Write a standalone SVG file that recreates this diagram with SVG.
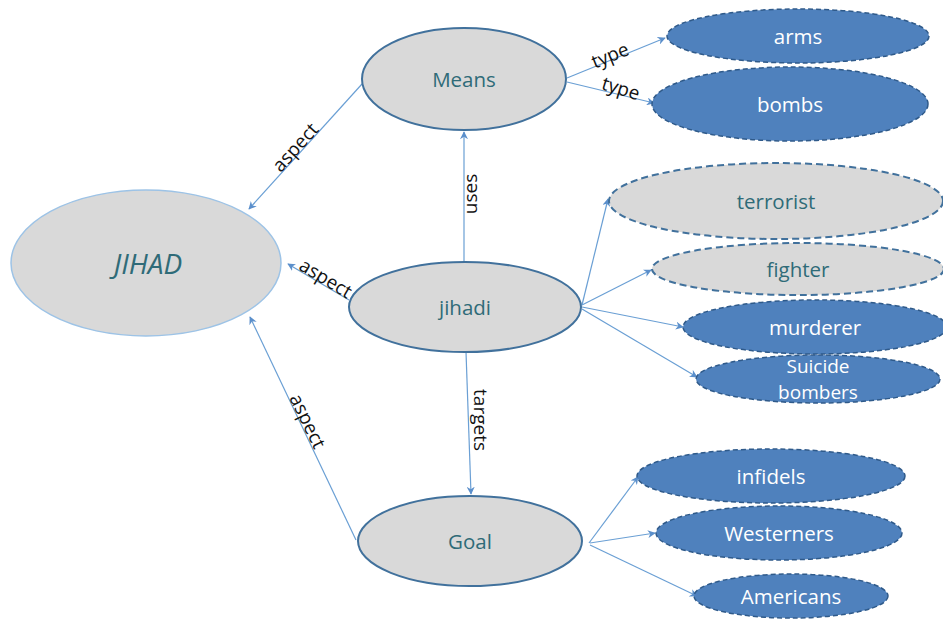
<svg xmlns="http://www.w3.org/2000/svg" width="943" height="619" viewBox="0 0 943 619">
<style>
.gray{fill:#d9d9d9;stroke:#41719c;stroke-width:2}
.gdash{fill:#d9d9d9;stroke:#41719c;stroke-width:2;stroke-dasharray:7 4}
.blue{fill:#4f81bd;stroke:#2f5a8a;stroke-width:1.5;stroke-dasharray:5 3}
.t{font-family:"Open Sans","Liberation Sans",sans-serif;font-size:20.5px;text-anchor:middle;dominant-baseline:central}
.tg{fill:#2f6b78}
.tw{fill:#ffffff}
.lbl{font-family:"Open Sans","Liberation Sans",sans-serif;font-size:19px;fill:#111;text-anchor:middle;dominant-baseline:central}
.e{stroke:#6a9fd4;stroke-width:1.2;fill:none;marker-end:url(#ah)}
</style>
<defs>
<marker id="ah" viewBox="0 0 10 10" refX="9" refY="5" markerWidth="8" markerHeight="8" markerUnits="userSpaceOnUse" orient="auto">
<path d="M0,0 L10,5 L0,10 L3,5 Z" fill="#5b8fcb"/>
</marker>
</defs>
<rect width="943" height="619" fill="#fff"/>
<g id="connectors">
<line class="e" x1="362" y1="84" x2="249" y2="209"/>
<line class="e" x1="349" y1="300" x2="288" y2="264"/>
<line class="e" x1="356" y1="540" x2="250" y2="317"/>
<line class="e" x1="464" y1="262" x2="464" y2="132"/>
<line class="e" x1="466" y1="352" x2="471" y2="494"/>
<line class="e" x1="567" y1="78" x2="665" y2="38"/>
<line class="e" x1="567" y1="82" x2="654" y2="103"/>
<line class="e" x1="582" y1="305" x2="608" y2="199"/>
<line class="e" x1="582" y1="305" x2="651" y2="270"/>
<line class="e" x1="582" y1="307" x2="683" y2="327"/>
<line class="e" x1="582" y1="309" x2="697" y2="377"/>
<line class="e" x1="589" y1="543" x2="638" y2="477"/>
<line class="e" x1="590" y1="543" x2="655" y2="533"/>
<line class="e" x1="590" y1="545" x2="697" y2="596"/>
<text class="lbl" transform="translate(295,147) rotate(-48)">aspect</text>
<text class="lbl" transform="translate(326,278) rotate(31)">aspect</text>
<text class="lbl" transform="translate(308,421) rotate(64)">aspect</text>
<text class="lbl" transform="translate(470,194) rotate(-90)">uses</text>
<text class="lbl" transform="translate(481,420) rotate(90)">targets</text>
<text class="lbl" transform="translate(610,55) rotate(-22)">type</text>
<text class="lbl" transform="translate(621,88) rotate(17)">type</text>
</g>
<g id="JIHAD"><ellipse cx="146" cy="263" rx="135" ry="73" fill="#d9d9d9" stroke="#9dc3e6" stroke-width="1.5"/><text class="t tg" x="148" y="263" font-style="italic" style="font-size:28px">JIHAD</text></g>
<g id="Means"><ellipse class="gray" cx="464" cy="79" rx="102" ry="51"/><text class="t tg" x="464" y="79">Means</text></g>
<g id="arms"><ellipse class="blue" cx="798" cy="36" rx="131" ry="27"/><text class="t tw" x="798" y="36">arms</text></g>
<g id="bombs"><ellipse class="blue" cx="790" cy="104" rx="138" ry="37"/><text class="t tw" x="790" y="104">bombs</text></g>
<g id="jihadi"><ellipse class="gray" cx="465" cy="307" rx="116" ry="45"/><text class="t tg" x="465" y="307">jihadi</text></g>
<g id="terrorist"><ellipse class="gdash" cx="776" cy="201" rx="167" ry="38"/><text class="t tg" x="776" y="201">terrorist</text></g>
<g id="fighter"><ellipse class="gdash" cx="798" cy="269" rx="146" ry="26"/><text class="t tg" x="798" y="269">fighter</text></g>
<g id="murderer"><ellipse class="blue" cx="815" cy="327" rx="132" ry="27"/><text class="t tw" x="815" y="327">murderer</text></g>
<g id="suicide"><ellipse class="blue" cx="818" cy="379" rx="122" ry="24"/><text class="t tw" x="818" y="366" style="font-size:19px">Suicide</text><text class="t tw" x="818" y="392" style="font-size:19px">bombers</text></g>
<g id="Goal"><ellipse class="gray" cx="470" cy="541" rx="112" ry="45"/><text class="t tg" x="470" y="541">Goal</text></g>
<g id="infidels"><ellipse class="blue" cx="771" cy="476" rx="134" ry="27"/><text class="t tw" x="771" y="476">infidels</text></g>
<g id="Westerners"><ellipse class="blue" cx="779" cy="533" rx="123" ry="27"/><text class="t tw" x="779" y="533">Westerners</text></g>
<g id="Americans"><ellipse class="blue" cx="791" cy="596" rx="97" ry="22"/><text class="t tw" x="791" y="596">Americans</text></g>
</svg>
